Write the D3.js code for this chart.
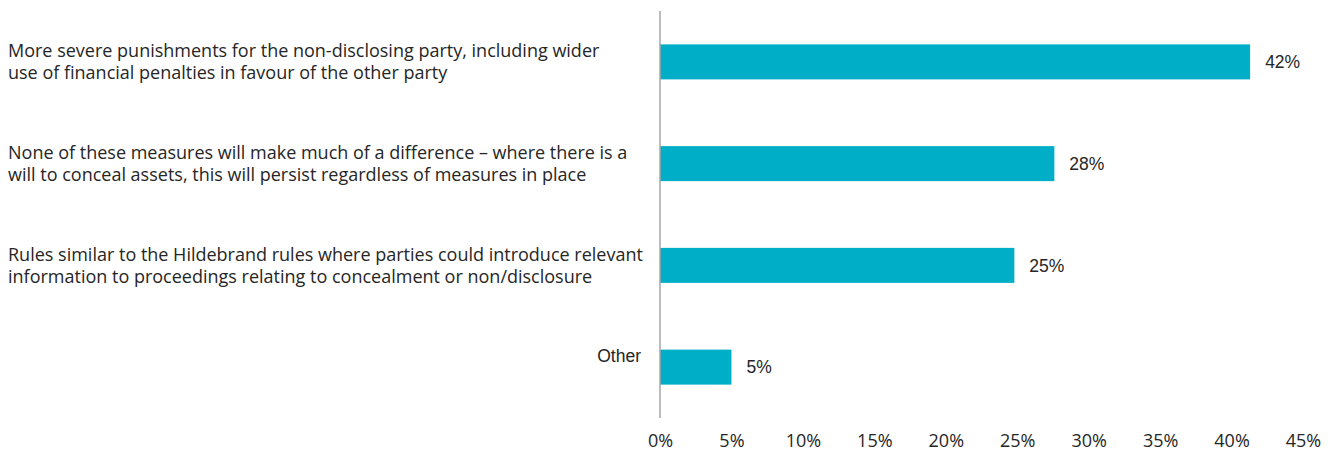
<!DOCTYPE html>
<html>
<head>
<meta charset="utf-8">
<script src="https://cdn.jsdelivr.net/npm/d3@7/dist/d3.min.js"></script>
<style>
  body { margin: 0; background: #fff; }
  svg { display: block; }
</style>
</head>
<body>
<svg id="chart" width="1331" height="453"></svg>
<script>
// categories, each one split into its wrapped lines
var categories = [
  ["More severe punishments for the non-disclosing party, including wider",
   "use of financial penalties in favour of the other party"],
  ["None of these measures will make much of a difference \u2013 where there is a",
   "will to conceal assets, this will persist regardless of measures in place"],
  ["Rules similar to the Hildebrand rules where parties could introduce relevant",
   "information to proceedings relating to concealment or non/disclosure"],
  ["Other"]
];
var values = [41.3, 27.6, 24.8, 5.0];
var valueLabels = ["42%", "28%", "25%", "5%"];
var ticks = [0, 5, 10, 15, 20, 25, 30, 35, 40, 45];

var width = 1331;
var height = 453;
var axisX = 660;

var svg = d3.select("#chart");

var x = d3.scaleLinear().domain([0, 45]).range([axisX, axisX + 643]);
var y = d3
  .scaleBand()
  .domain(d3.range(values.length))
  .range([11, 418])
  .paddingInner(0.656)
  .paddingOuter(0.328);

// bars
svg
  .selectAll("rect.bar")
  .data(values)
  .enter()
  .append("rect")
  .attr("class", "bar")
  .attr("x", x(0))
  .attr("y", (d, i) => y(i))
  .attr("width", (d) => x(d) - x(0))
  .attr("height", y.bandwidth())
  .attr("fill", "#00aec7");

// vertical axis line
svg
  .append("line")
  .attr("x1", axisX)
  .attr("x2", axisX)
  .attr("y1", 11)
  .attr("y2", 418)
  .attr("stroke", "#a6a6a6")
  .attr("stroke-width", 1.5);

// value labels
svg
  .selectAll("text.val")
  .data(values)
  .enter()
  .append("text")
  .attr("class", "val")
  .attr("x", (d) => x(d) + 15)
  .attr("y", (d, i) => y(i) + y.bandwidth() / 2)
  .attr("dy", "0.35em")
  .attr("font-family", "'Liberation Sans', Arial, sans-serif")
  .attr("font-size", 17.5)
  .attr("fill", "#262626")
  .text((d, i) => valueLabels[i]);

// category labels
var cat = svg
  .selectAll("text.cat")
  .data(categories)
  .enter()
  .append("text")
  .attr("class", "cat")
  .attr("font-family", (d) => d.length > 1 ? "'Open Sans', sans-serif" : "'Liberation Sans', Arial, sans-serif")
  .attr("font-size", (d) => (d.length > 1 ? 18 : 17.5))
  .attr("fill", "#262626")
  .attr("text-anchor", (d) => (d.length > 1 ? "start" : "end"))
  .attr("x", (d) => (d.length > 1 ? 8 : axisX - 19))
  .attr("y", (d, i) => y(i) + y.bandwidth() / 2 - 11);

cat
  .selectAll("tspan")
  .data((d) => d)
  .enter()
  .append("tspan")
  .attr("x", function () {
    return d3.select(this.parentNode).attr("x");
  })
  .attr("dy", (d, j) => (j === 0 ? "0.35em" : 22))
  .text((d) => d);

// x axis tick labels
var xAxis = d3
  .axisBottom(x)
  .tickValues(ticks)
  .tickSize(0)
  .tickPadding(0)
  .tickFormat((d) => d + "%");

svg
  .append("g")
  .attr("transform", "translate(0, 434)")
  .call(xAxis)
  .call((g) => g.select(".domain").remove())
  .selectAll("text")
  .attr("font-family", "'Open Sans', sans-serif")
  .attr("font-size", 18)
  .attr("fill", "#262626");
</script>
</body>
</html>
